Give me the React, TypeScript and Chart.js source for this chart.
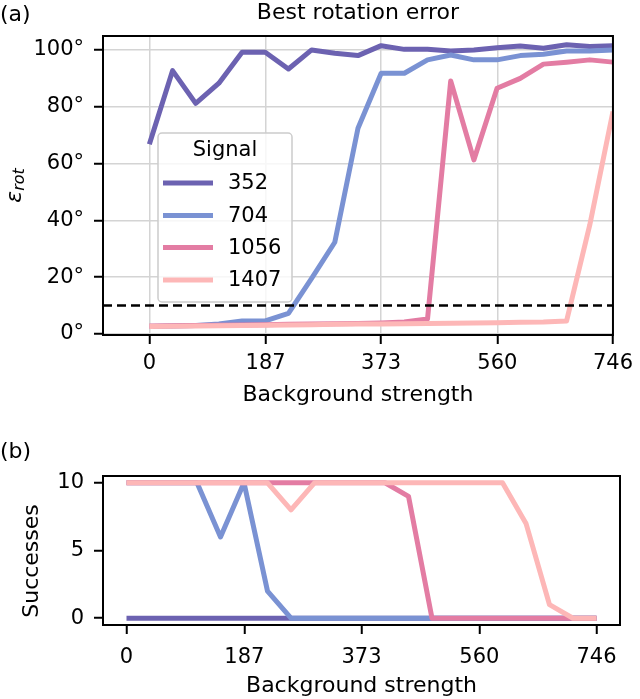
import React, { useEffect, useRef } from "react";
import { Chart, registerables } from "chart.js";

Chart.register(...registerables);

// ---------- data ----------
const XS = [0, 37.3, 74.6, 111.9, 149.2, 186.5, 223.8, 261.1, 298.4, 335.7, 373, 410.3, 447.6, 484.9, 522.2, 559.5, 596.8, 634.1, 671.4, 708.7, 746];
const X_TICKS = [0, 187, 373, 560, 746];
const SIGNALS = ["352", "704", "1056", "1407"];
const COLORS = ["#6c62b1", "#7a92d3", "#e37ca3", "#fdb7b7"];

// Best rotation error (degrees)
const ERR_352 = [66.8, 92.7, 81.2, 88.3, 99.2, 99.2, 93.3, 100, 98.8, 98, 101.5, 100.2, 100.2, 99.6, 100, 100.8, 101.4, 100.6, 101.8, 101.2, 101.5];
const ERR_704 = [2.6, 2.8, 3.0, 3.5, 4.6, 4.6, 7.3, 19.6, 32.3, 72.4, 91.8, 91.8, 96.5, 98.2, 96.5, 96.5, 98, 98.5, 99.6, 99.6, 100];
const ERR_1056 = [2.8, 2.9, 3.0, 3.1, 3.2, 3.3, 3.4, 3.5, 3.6, 3.7, 3.9, 4.2, 5.3, 89.1, 61.3, 86.5, 90, 95, 95.7, 96.5, 95.7];
const ERR_1407 = [2.6, 2.7, 2.8, 2.9, 3.0, 3.1, 3.2, 3.3, 3.4, 3.5, 3.5, 3.6, 3.7, 3.8, 3.9, 4.0, 4.1, 4.2, 4.6, 38.4, 78.3];
const THRESHOLD = 10;
const ERR_TICKS = [0, 20, 40, 60, 80, 100];

// Successes (out of 10)
const SUC_352 = [0, 0, 0, 0, 0, 0, 0, 0, 0, 0, 0, 0, 0, 0, 0, 0, 0, 0, 0, 0, 0];
const SUC_704 = [10, 10, 10, 10, 6, 10, 2, 0, 0, 0, 0, 0, 0, 0, 0, 0, 0, 0, 0, 0, 0];
const SUC_1056 = [10, 10, 10, 10, 10, 10, 10, 10, 10, 10, 10, 10, 9, 0, 0, 0, 0, 0, 0, 0, 0];
const SUC_1407 = [10, 10, 10, 10, 10, 10, 10, 8, 10, 10, 10, 10, 10, 10, 10, 10, 10, 7, 1, 0, 0];
const SUC_TICKS = [0, 5, 10];

const FAMILY = "'DejaVu Sans', sans-serif";
const TICK_FONT = { family: FAMILY, size: 21 };

const pts = (ys: number[]) => XS.map((x, i) => ({ x, y: ys[i] }));

function lineDs(label: string, ys: number[], i: number) {
  return {
    label,
    data: pts(ys),
    borderColor: COLORS[i],
    backgroundColor: COLORS[i],
    borderWidth: 5,
    pointRadius: 0,
    tension: 0,
    order: 4 - i,
    borderJoinStyle: "round" as const,
  };
}

function frameAndText(draw: (ctx: CanvasRenderingContext2D, chart: any) => void) {
  return {
    id: "extras",
    afterDraw(chart: any) {
      const ctx = chart.ctx as CanvasRenderingContext2D;
      const a = chart.chartArea;
      ctx.save();
      ctx.strokeStyle = "#000";
      ctx.lineWidth = 2;
      ctx.strokeRect(a.left, a.top, a.right - a.left, a.bottom - a.top);
      ctx.fillStyle = "#000";
      draw(ctx, chart);
      ctx.restore();
    },
  };
}

function xScale(min: number, max: number, height: number, grid: boolean, pad: number) {
  return {
    type: "linear" as const,
    min,
    max,
    afterBuildTicks: (s: any) => {
      s.ticks = X_TICKS.map((v) => ({ value: v }));
    },
    afterFit: (s: any) => {
      s.height = height;
    },
    grid: {
      display: true,
      drawOnChartArea: grid,
      color: "#d4d4d4",
      lineWidth: 1.5,
      tickColor: "#000",
      tickLength: 9,
      tickWidth: 2,
    },
    border: { color: "#000", width: 2 },
    ticks: { font: TICK_FONT, color: "#000", padding: pad, maxRotation: 0, autoSkip: false, callback: (v: any) => String(v) },
  };
}

function yScale(min: number, max: number, ticks: number[], grid: boolean, suffix: string) {
  return {
    type: "linear" as const,
    min,
    max,
    afterBuildTicks: (s: any) => {
      s.ticks = ticks.map((v) => ({ value: v }));
    },
    afterFit: (s: any) => {
      s.width = 103;
    },
    grid: {
      display: true,
      drawOnChartArea: grid,
      color: "#d4d4d4",
      lineWidth: 1.5,
      tickColor: "#000",
      tickLength: 9,
      tickWidth: 2,
    },
    border: { color: "#000", width: 2 },
    ticks: { font: TICK_FONT, color: "#000", padding: 10, autoSkip: false, callback: (v: any) => String(v) + suffix },
  };
}

function TopChart() {
  const ref = useRef<HTMLCanvasElement>(null);
  useEffect(() => {
    const legendPlugin = frameAndText((ctx, chart) => {
      const a = chart.chartArea;
      const cx = (a.left + a.right) / 2;
      ctx.textBaseline = "middle";
      ctx.font = `22px ${FAMILY}`;
      ctx.textAlign = "left";
      ctx.fillText("(a)", 0, 15);
      ctx.textAlign = "center";
      ctx.font = `22px ${FAMILY}`;
      ctx.fillText("Best rotation error", cx, 13);
      ctx.font = `22px ${FAMILY}`;
      ctx.fillText("Background strength", cx, 395);
      // y label epsilon_rot
      ctx.save();
      ctx.translate(15, (a.top + a.bottom) / 2);
      ctx.rotate(-Math.PI / 2);
      ctx.textAlign = "left";
      ctx.font = `italic 22px ${FAMILY}`;
      const w1 = ctx.measureText("ε").width;
      ctx.font = `italic 16px ${FAMILY}`;
      const w2 = ctx.measureText("rot").width;
      const start = -(w1 + w2) / 2;
      ctx.font = `italic 22px ${FAMILY}`;
      ctx.fillText("ε", start, 0);
      ctx.font = `italic 16px ${FAMILY}`;
      ctx.fillText("rot", start + w1, 5);
      ctx.restore();
      // legend
      const bx = 158, by = 133, bw = 134, bh = 169;
      ctx.save();
      ctx.fillStyle = "rgba(255,255,255,0.8)";
      ctx.strokeStyle = "#cccccc";
      ctx.lineWidth = 1.5;
      ctx.beginPath();
      (ctx as any).roundRect(bx, by, bw, bh, 4);
      ctx.fill();
      ctx.stroke();
      ctx.restore();
      ctx.font = `21px ${FAMILY}`;
      ctx.textAlign = "center";
      ctx.fillText("Signal", 225, 151);
      const ys = [183, 215.5, 247.5, 280];
      chart.data.datasets.slice(0, 4).forEach((ds: any, i: number) => {
        ctx.strokeStyle = ds.borderColor;
        ctx.lineWidth = 5;
        ctx.beginPath();
        ctx.moveTo(163, ys[i]);
        ctx.lineTo(213, ys[i]);
        ctx.stroke();
        ctx.fillStyle = "#000";
        ctx.textAlign = "left";
        ctx.fillText(ds.label, 228, ys[i] + 1);
      });
    });
    const chart = new Chart(ref.current!, {
      type: "line",
      data: {
        datasets: [
          lineDs(SIGNALS[0], ERR_352, 0),
          lineDs(SIGNALS[1], ERR_704, 1),
          lineDs(SIGNALS[2], ERR_1056, 2),
          lineDs(SIGNALS[3], ERR_1407, 3),
          {
            label: "threshold",
            data: [
              { x: -74.6, y: THRESHOLD },
              { x: 746, y: THRESHOLD },
            ],
            borderColor: "#000",
            borderWidth: 2.5,
            borderDash: [9, 5],
            pointRadius: 0,
            order: 0,
          } as any,
        ],
      },
      options: {
        animation: false,
        responsive: false,
        maintainAspectRatio: false,
        layout: { padding: { left: 0, right: 20, top: 36, bottom: 0 } },
        plugins: { legend: { display: false }, tooltip: { enabled: false }, title: { display: false } },
        scales: {
          x: xScale(-74.6, 746, 85, true, 7) as any,
          y: yScale(-0.35, 104.9, ERR_TICKS, true, "°") as any,
        },
      },
      plugins: [legendPlugin],
    });
    return () => chart.destroy();
  }, []);
  return <canvas ref={ref} width={640} height={420} style={{ position: "absolute", left: 0, top: 0, width: 640, height: 420 }} />;
}

function BottomChart() {
  const ref = useRef<HTMLCanvasElement>(null);
  useEffect(() => {
    const extras = frameAndText((ctx, chart) => {
      const a = chart.chartArea;
      const cx = (a.left + a.right) / 2;
      ctx.textBaseline = "middle";
      ctx.font = `22px ${FAMILY}`;
      ctx.textAlign = "left";
      ctx.fillText("(b)", 0, 32);
      ctx.textAlign = "center";
      ctx.fillText("Background strength", cx, 266);
      ctx.save();
      ctx.translate(32, 141);
      ctx.rotate(-Math.PI / 2);
      ctx.fillText("Successes", 0, 0);
      ctx.restore();
    });
    const chart = new Chart(ref.current!, {
      type: "line",
      data: {
        datasets: [
          lineDs(SIGNALS[0], SUC_352, 0),
          lineDs(SIGNALS[1], SUC_704, 1),
          lineDs(SIGNALS[2], SUC_1056, 2),
          lineDs(SIGNALS[3], SUC_1407, 3),
        ],
      },
      options: {
        animation: false,
        responsive: false,
        maintainAspectRatio: false,
        layout: { padding: { left: 0, right: 20, top: 56, bottom: 0 } },
        plugins: { legend: { display: false }, tooltip: { enabled: false }, title: { display: false } },
        scales: {
          x: xScale(-37.3, 783.3, 74, false, 11) as any,
          y: yScale(-0.5, 10.5, SUC_TICKS, false, "") as any,
        },
      },
      plugins: [extras],
    });
    return () => chart.destroy();
  }, []);
  return <canvas ref={ref} width={640} height={279} style={{ position: "absolute", left: 0, top: 420, width: 640, height: 279 }} />;
}

export default function App() {
  return (
    <div style={{ position: "fixed", left: 0, top: 0, width: 640, height: 699, background: "#fff", overflow: "hidden" }}>
      <TopChart />
      <BottomChart />
    </div>
  );
}
